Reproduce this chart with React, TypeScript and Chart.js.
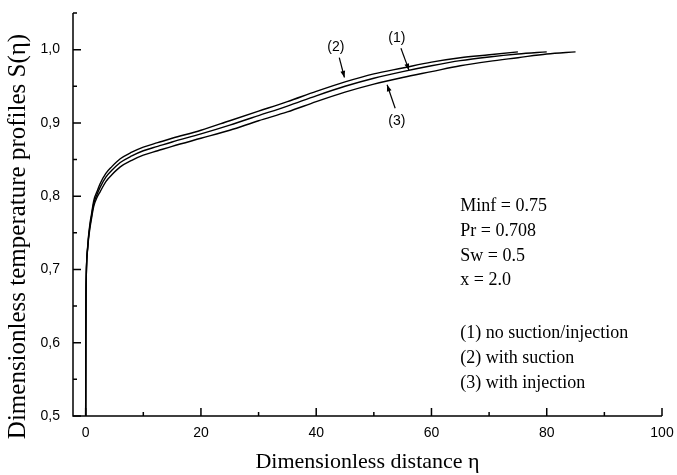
import React, { useEffect, useRef } from "react";
import { Chart, registerables } from "chart.js";

Chart.register(...registerables);

// eta values and S(eta) profiles
const eta1 = [0, 0.02, 0.05, 0.1, 0.2, 0.35, 0.5, 0.75, 1, 1.4, 2, 2.5, 3.5, 4.5, 6, 8, 10, 12.5, 15, 20, 25, 30, 35, 40, 45, 50, 55, 60, 65, 70, 75, 80];
const s1 = [0.5, 0.6, 0.66, 0.69, 0.715, 0.73, 0.744, 0.76, 0.772, 0.79, 0.803, 0.812, 0.826, 0.835, 0.846, 0.855, 0.862, 0.868, 0.874, 0.885, 0.897, 0.91, 0.923, 0.937, 0.95, 0.961, 0.97, 0.978, 0.985, 0.99, 0.994, 0.997];

const eta2 = [0, 0.02, 0.05, 0.1, 0.2, 0.35, 0.5, 0.75, 1, 1.4, 2, 2.5, 3.5, 4.5, 6, 8, 10, 12.5, 15, 20, 25, 30, 35, 40, 45, 50, 55, 60, 65, 70, 75];
const s2 = [0.5, 0.6, 0.66, 0.69, 0.716, 0.732, 0.746, 0.763, 0.775, 0.794, 0.807, 0.817, 0.831, 0.84, 0.851, 0.86, 0.867, 0.873, 0.879, 0.89, 0.903, 0.916, 0.929, 0.943, 0.956, 0.967, 0.975, 0.983, 0.989, 0.993, 0.997];

const eta3 = [0, 0.02, 0.05, 0.1, 0.2, 0.35, 0.5, 0.75, 1, 1.4, 2, 2.5, 3.5, 4.5, 6, 8, 10, 12.5, 15, 20, 25, 30, 35, 40, 45, 50, 55, 60, 65, 70, 75, 80, 85];
const s3 = [0.5, 0.6, 0.66, 0.69, 0.714, 0.728, 0.742, 0.757, 0.769, 0.786, 0.799, 0.806, 0.82, 0.829, 0.84, 0.849, 0.856, 0.862, 0.868, 0.879, 0.89, 0.903, 0.915, 0.929, 0.942, 0.953, 0.962, 0.97, 0.978, 0.984, 0.989, 0.994, 0.997];

const xTicks = [0, 20, 40, 60, 80, 100];
const xMinorTicks = [10, 30, 50, 70, 90];
const yTicks = [0.5, 0.6, 0.7, 0.8, 0.9, 1.0];
const yMinorTicks = [0.55, 0.65, 0.75, 0.85, 0.95, 1.05];

const xTitle = "Dimensionless distance η";
const yTitle = "Dimensionless temperature profiles S(η)";
// y title centre, in S units (it sits a little below the middle of the axis)
const yTitleCenterS = 0.745;

// Parameter text block (anchor in data units: eta, S)
const infoLines = ["Minf = 0.75", "Pr = 0.708", "Sw = 0.5", "x = 2.0", "(1) no suction/injection", "(2) with suction", "(3) with injection"];
const infoEta = 65;
const infoS = [0.786, 0.752, 0.718, 0.685, 0.613, 0.579, 0.545];

// Curve labels with arrows: [label, textEta, textS, fromEta, fromS, toEta, toS]
const curveLabels: [string, number, number, number, number, number, number][] = [
  ["(2)", 43.4, 1.003, 44.0, 0.989, 44.9, 0.962],
  ["(1)", 54.0, 1.016, 54.7, 1.002, 56.1, 0.972],
  ["(3)", 54.0, 0.903, 53.7, 0.92, 52.3, 0.952],
];

function toPoints(xs: number[], ys: number[]) {
  return xs.map((x, i) => ({ x, y: ys[i] }));
}

const axesPlugin = {
  id: "axesPlugin",
  afterDraw(chart: any) {
    const { ctx, chartArea, scales } = chart;
    const xs = scales.x;
    const ys = scales.y;
    ctx.save();
    ctx.strokeStyle = "#000";
    ctx.fillStyle = "#000";
    ctx.lineWidth = 1.5;
    ctx.beginPath();
    ctx.moveTo(chartArea.left, chartArea.top);
    ctx.lineTo(chartArea.left, chartArea.bottom);
    ctx.lineTo(chartArea.right, chartArea.bottom);
    ctx.stroke();
    ctx.beginPath();
    xTicks.forEach((v) => {
      const px = xs.getPixelForValue(v);
      ctx.moveTo(px, chartArea.bottom);
      ctx.lineTo(px, chartArea.bottom - 8);
    });
    xMinorTicks.forEach((v) => {
      const px = xs.getPixelForValue(v);
      ctx.moveTo(px, chartArea.bottom);
      ctx.lineTo(px, chartArea.bottom - 4);
    });
    yTicks.forEach((v) => {
      const py = ys.getPixelForValue(v);
      ctx.moveTo(chartArea.left, py);
      ctx.lineTo(chartArea.left + 8, py);
    });
    yMinorTicks.forEach((v) => {
      const py = ys.getPixelForValue(v);
      ctx.moveTo(chartArea.left, py);
      ctx.lineTo(chartArea.left + 4, py);
    });
    ctx.stroke();

    // y axis title
    ctx.save();
    ctx.font = "25px 'Liberation Serif'";
    ctx.textAlign = "center";
    ctx.textBaseline = "middle";
    ctx.translate(ys.left + 18, ys.getPixelForValue(yTitleCenterS));
    ctx.rotate(-Math.PI / 2);
    ctx.fillText(yTitle, 0, 0);
    ctx.restore();

    ctx.font = "18px 'Liberation Serif'";
    ctx.textBaseline = "middle";
    ctx.textAlign = "left";
    infoLines.forEach((t, i) => {
      ctx.fillText(t, xs.getPixelForValue(infoEta), ys.getPixelForValue(infoS[i]));
    });

    ctx.font = "14px 'Liberation Sans'";
    ctx.textAlign = "center";
    ctx.lineWidth = 1.2;
    curveLabels.forEach(([label, te, ts, fe, fs, ae, as]) => {
      ctx.fillText(label, xs.getPixelForValue(te), ys.getPixelForValue(ts));
      const x0 = xs.getPixelForValue(fe);
      const y0 = ys.getPixelForValue(fs);
      const x1 = xs.getPixelForValue(ae);
      const y1 = ys.getPixelForValue(as);
      ctx.beginPath();
      ctx.moveTo(x0, y0);
      ctx.lineTo(x1, y1);
      ctx.stroke();
      const ang = Math.atan2(y1 - y0, x1 - x0);
      const len = 7;
      const w = 0.35;
      ctx.beginPath();
      ctx.moveTo(x1, y1);
      ctx.lineTo(x1 - len * Math.cos(ang - w), y1 - len * Math.sin(ang - w));
      ctx.lineTo(x1 - len * Math.cos(ang + w), y1 - len * Math.sin(ang + w));
      ctx.closePath();
      ctx.fill();
    });
    ctx.restore();
  },
};

export default function App() {
  const canvasRef = useRef<HTMLCanvasElement | null>(null);

  useEffect(() => {
    const canvas = canvasRef.current;
    if (!canvas) return;
    const lineStyle = {
      borderColor: "#000",
      borderWidth: 1.4,
      pointRadius: 0,
      showLine: true,
      fill: false,
      cubicInterpolationMode: "monotone" as const,
    };
    const chart = new Chart(canvas, {
      type: "scatter",
      data: {
        datasets: [
          { label: "(1) no suction/injection", data: toPoints(eta1, s1), ...lineStyle },
          { label: "(2) with suction", data: toPoints(eta2, s2), ...lineStyle },
          { label: "(3) with injection", data: toPoints(eta3, s3), ...lineStyle },
        ],
      },
      options: {
        animation: false,
        responsive: false,
        layout: { padding: { top: 13, right: 15, left: 0, bottom: 0 } },
        plugins: { legend: { display: false }, tooltip: { enabled: false } },
        scales: {
          x: {
            type: "linear",
            min: -2.2,
            max: 100,
            afterBuildTicks: (s: any) => {
              s.ticks = xTicks.map((v) => ({ value: v }));
            },
            afterFit: (s: any) => {
              s.height = 59;
              s.paddingLeft = 0;
              s.paddingRight = 0;
            },
            grid: { display: false, drawTicks: false },
            border: { display: false },
            ticks: {
              color: "#000",
              padding: 9,
              maxRotation: 0,
              autoSkip: false,
              font: { family: "'Liberation Sans'", size: 14 },
              callback: (v: any) => String(v),
            },
            title: {
              display: true,
              text: xTitle,
              color: "#000",
              font: { family: "'Liberation Serif'", size: 22 },
              padding: { top: 0, bottom: 0 },
            },
          },
          y: {
            type: "linear",
            min: 0.5,
            max: 1.05,
            afterBuildTicks: (s: any) => {
              s.ticks = yTicks.map((v) => ({ value: v }));
            },
            afterFit: (s: any) => {
              s.width = 73;
              s.paddingTop = 0;
              s.paddingBottom = 0;
            },
            grid: { display: false, drawTicks: false },
            border: { display: false },
            ticks: {
              color: "#000",
              padding: 13,
              autoSkip: false,
              font: { family: "'Liberation Sans'", size: 14 },
              callback: (v: any) => Number(v).toFixed(1).replace(".", ","),
            },
            title: { display: false, text: yTitle },
          },
        },
      },
      plugins: [axesPlugin],
    });
    return () => chart.destroy();
  }, []);

  return (
    <div style={{ position: "absolute", left: 0, top: 0, width: 677, height: 475, background: "#fff" }}>
      <canvas ref={canvasRef} width={677} height={475} style={{ display: "block" }} />
    </div>
  );
}
